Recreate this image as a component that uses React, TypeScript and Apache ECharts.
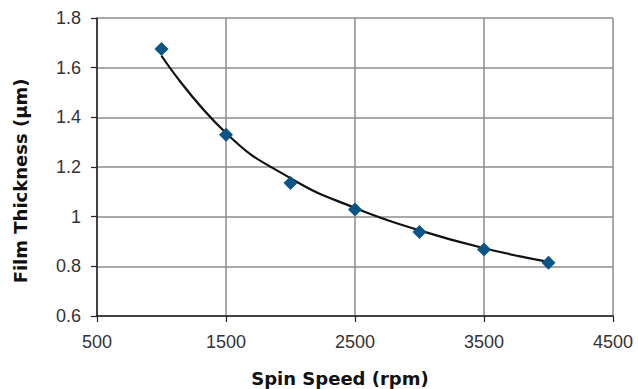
import React, { useEffect, useRef } from "react";
import * as echarts from "echarts";

const spinSpeeds = [1000, 1500, 2000, 2500, 3000, 3500, 4000];
const thickness = [1.675, 1.33, 1.136, 1.029, 0.938, 0.868, 0.814];
const trendSpeeds = [1000, 1500, 2000, 2500, 3000, 3500, 4000];
const trendValues = [1.648, 1.337, 1.155, 1.035, 0.945, 0.873, 0.818];

const xTitle = "Spin Speed (rpm)";
const yTitle = "Film Thickness (µm)";

export default function App() {
  const ref = useRef<HTMLDivElement>(null);
  useEffect(() => {
    if (!ref.current) return;
    const chart = echarts.init(ref.current, null, { renderer: "svg" });
    const labelFont = {
      fontFamily: "Liberation Sans, Arial, sans-serif",
      fontSize: 18,
      color: "#333333",
    };
    chart.setOption({
      animation: false,
      backgroundColor: "#ffffff",
      grid: {
        left: 97,
        top: 18,
        right: 25,
        bottom: 73,
        containLabel: false,
        outerBoundsMode: "none",
      },
      xAxis: {
        type: "value",
        min: 500,
        max: 4500,
        interval: 1000,
        axisLine: { show: true, onZero: false, lineStyle: { color: "#222", width: 1.5 } },
        axisTick: { show: true, length: 6, lineStyle: { color: "#222", width: 1.2 } },
        axisLabel: { ...labelFont, margin: 17, formatter: (v: number) => String(v) },
        splitLine: { show: true, lineStyle: { color: "#8c8c8c", width: 1.5 } },
      },
      yAxis: {
        type: "value",
        min: 0.6,
        max: 1.8,
        interval: 0.2,
        axisLine: { show: true, lineStyle: { color: "#222", width: 1.5 } },
        axisTick: { show: true, length: 6, lineStyle: { color: "#222", width: 1.2 } },
        axisLabel: {
          ...labelFont,
          margin: 16,
          formatter: (v: number) => String(Math.round(v * 10) / 10),
        },
        splitLine: { show: true, lineStyle: { color: "#8c8c8c", width: 1.5 } },
      },
      graphic: [
        {
          type: "text",
          x: 340,
          y: 378,
          style: {
            text: xTitle,
            fontFamily: "DejaVu Sans, Verdana, sans-serif",
            fontWeight: "bold",
            fontSize: 18,
            fill: "#111",
            align: "center",
            verticalAlign: "middle",
          },
        },
        {
          type: "text",
          x: 20,
          y: 181,
          rotation: Math.PI / 2,
          style: {
            text: yTitle,
            fontFamily: "DejaVu Sans, Verdana, sans-serif",
            fontWeight: "bold",
            fontSize: 18,
            fill: "#111",
            align: "center",
            verticalAlign: "middle",
          },
        },
      ],
      series: [
        {
          type: "line",
          data: trendSpeeds.map((x, i) => [x, trendValues[i]]),
          smooth: 0.5,
          showSymbol: false,
          symbol: "none",
          lineStyle: { color: "#111", width: 2.2 },
          z: 2,
        },
        {
          type: "scatter",
          data: spinSpeeds.map((x, i) => [x, thickness[i]]),
          symbol: "diamond",
          symbolSize: 14,
          itemStyle: { color: "#0a5586", opacity: 1 },
          z: 3,
        },
      ],
    });
    return () => chart.dispose();
  }, []);
  return (
    <div
      ref={ref}
      style={{ position: "fixed", left: 0, top: 0, width: 638, height: 389 }}
    />
  );
}
